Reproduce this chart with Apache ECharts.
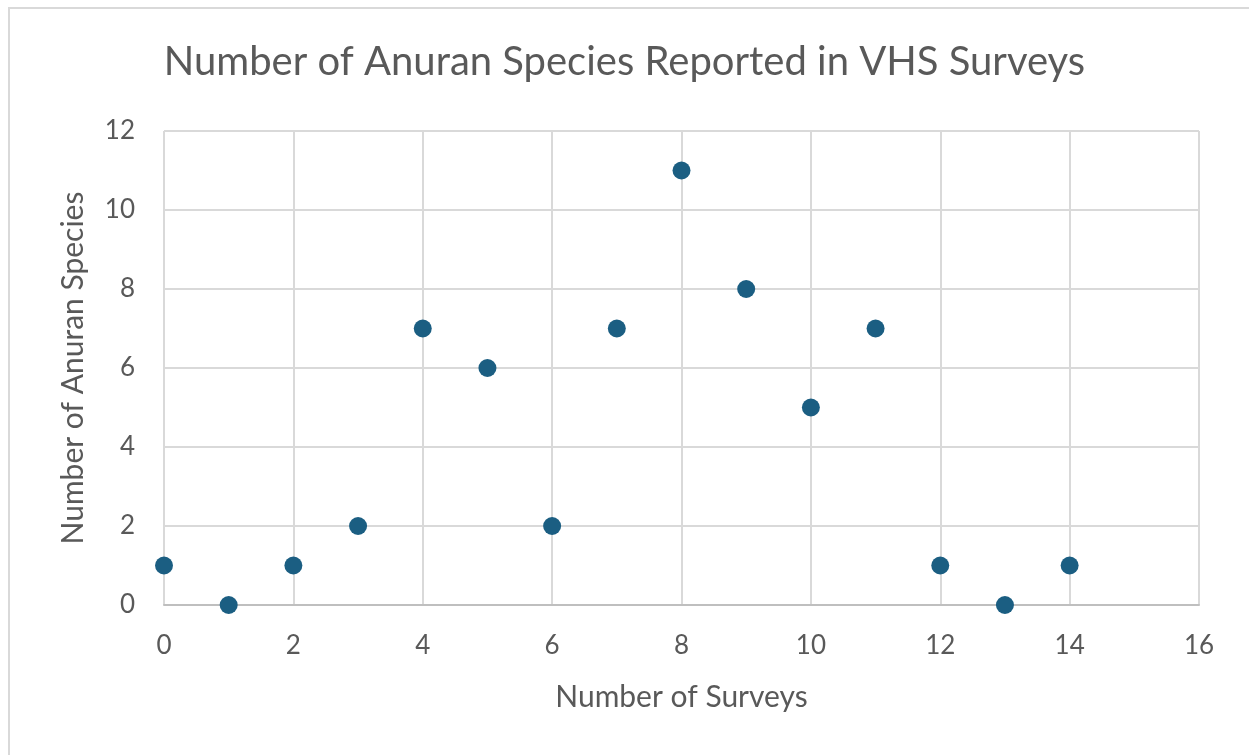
<!DOCTYPE html>
<html>
<head>
<meta charset="utf-8">
<title>Anuran species</title>
<script src="https://cdn.jsdelivr.net/npm/echarts@6/dist/echarts.min.js"></script>
<style>
  html, body { margin: 0; padding: 0; background: #fff; }
  #frame { position: absolute; left: 8px; top: 7px; width: 1260px; height: 770px; border: 2px solid #d9d9d9; box-sizing: border-box; }
  #main { position: absolute; left: 0; top: 0; width: 1249px; height: 755px; }
</style>
</head>
<body>
<div id="frame"></div>
<div id="main"></div>
<script>
// data
var surveys = [0, 1, 2, 3, 4, 5, 6, 7, 8, 9, 10, 11, 12, 13, 14];
var species = [1, 0, 1, 2, 7, 6, 2, 7, 11, 8, 5, 7, 1, 0, 1];

var points = surveys.map(function (x, i) { return [x, species[i]]; });

var font = 'Lato, "Open Sans", sans-serif';
var grey = '#595959';

var chart = echarts.init(document.getElementById('main'));
chart.setOption({
    animation: false,
    title: {
        text: 'Number of Anuran Species Reported in VHS Surveys',
        left: 'center',
        top: 37,
        textStyle: { fontFamily: font, fontSize: 40, fontWeight: 'normal', color: grey }
    },
    grid: { left: 164, right: 50, top: 131, bottom: 150 },
    xAxis: {
        type: 'value',
        min: 0, max: 16, interval: 2,
        name: 'Number of Surveys',
        nameLocation: 'middle',
        nameGap: 77,
        nameTextStyle: { fontFamily: font, fontSize: 30, color: grey },
        axisLine: { show: true, lineStyle: { color: '#bfbfbf', width: 2 } },
        axisTick: { show: false },
        axisLabel: { fontFamily: font, fontSize: 26, color: grey, margin: 28 },
        splitLine: { show: true, lineStyle: { color: '#d9d9d9', width: 2 } }
    },
    yAxis: {
        type: 'value',
        min: 0, max: 12, interval: 2,
        name: 'Number of Anuran Species',
        nameLocation: 'middle',
        nameGap: 76,
        nameTextStyle: { fontFamily: font, fontSize: 30, color: grey },
        axisLine: { show: false },
        axisTick: { show: false },
        axisLabel: { fontFamily: font, fontSize: 26, color: grey, margin: 29 },
        splitLine: { show: true, lineStyle: { color: '#d9d9d9', width: 2 } }
    },
    series: [{
        type: 'scatter',
        data: points,
        symbolSize: 18,
        itemStyle: { color: '#1b5e82', opacity: 1 }
    }]
});
</script>
</body>
</html>
